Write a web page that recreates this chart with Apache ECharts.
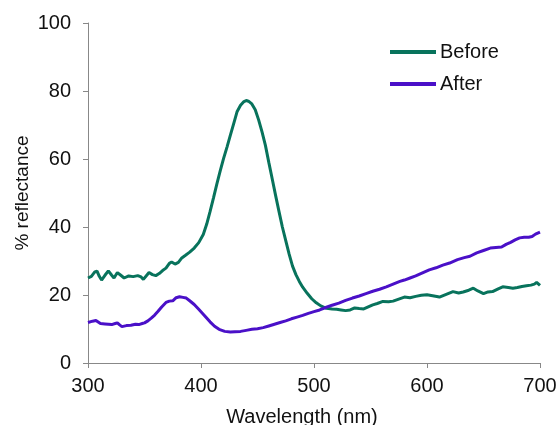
<!DOCTYPE html>
<html>
<head>
<meta charset="utf-8">
<script src="https://cdn.jsdelivr.net/npm/echarts@6/dist/echarts.min.js"></script>
<style>
html,body{margin:0;padding:0;background:#fff;}
#chart{width:557px;height:425px;}
</style>
</head>
<body>
<div id="chart"></div>
<script>
const xTicks = [300, 400, 500, 600, 700];
const yTicks = [0, 20, 40, 60, 80, 100];
const seriesNames = ["Before", "After"];

const beforeWavelength = [300,303,306,308,310,312,315,318,321,323,326,329,332,336,340,344,347,349,352,354,357,360,363,366,369,372,374,377,380,383,386,390,394,398,402,405,408,411,414,417,420,423,426,429,432,435,438,440,442,445,448,451,454,457,460,463,466,469,472,475,478,481,484,487,490,494,498,502,506,511,516,520,524,528,532,536,540,544,548,552,556,561,566,570,575,580,585,590,595,600,605,611,617,623,628,632,637,641,645,650,654,658,663,667,672,676,680,684,688,692,695,697,700];
const beforeValues = [25.0,25.5,26.8,27.0,25.5,24.4,25.8,27.1,25.8,25.0,26.6,25.8,25.0,25.6,25.4,25.7,25.3,24.6,25.8,26.6,26.0,25.7,26.3,27.2,27.9,29.3,29.7,29.1,29.6,30.9,31.6,32.6,33.8,35.4,37.8,40.8,44.5,48.5,52.6,56.5,60.2,63.5,67.0,70.5,74.0,75.8,76.9,77.2,77.0,76.2,74.5,71.5,68.0,64.0,59.0,54.2,49.3,44.6,40.0,36.0,32.0,28.5,26.0,24.0,22.3,20.5,18.9,17.7,16.8,16.1,15.9,15.8,15.6,15.4,15.6,16.2,16.0,15.9,16.5,17.1,17.5,18.1,18.0,18.2,18.8,19.4,19.2,19.6,19.9,20.1,19.8,19.4,20.2,21.0,20.6,20.9,21.4,22.0,21.2,20.4,20.9,21.0,21.8,22.4,22.2,22.0,22.2,22.5,22.7,22.9,23.2,23.7,22.8];

const afterWavelength = [300,304,307,311,315,318,321,324,326,328,330,334,338,342,345,348,350,353,356,359,362,365,369,372,375,378,381,384,387,390,394,398,403,408,412,416,421,426,430,435,440,445,450,455,460,465,470,475,480,485,490,495,500,505,511,516,522,528,534,540,546,552,558,564,570,576,580,585,590,596,602,608,614,620,627,633,638,644,650,656,661,666,670,674,678,682,686,690,693,696,700];
const afterValues = [11.9,12.3,12.5,11.6,11.5,11.4,11.3,11.6,11.8,11.2,10.7,11.0,11.1,11.4,11.3,11.6,11.8,12.4,13.2,14.1,15.2,16.4,17.8,18.2,18.3,19.2,19.5,19.3,19.1,18.3,17.2,15.8,14.0,12.1,10.8,9.9,9.3,9.1,9.2,9.3,9.6,9.9,10.1,10.4,10.9,11.4,11.9,12.4,13.0,13.5,14.0,14.6,15.1,15.6,16.4,17.0,17.6,18.4,19.1,19.7,20.4,21.1,21.7,22.4,23.2,24.0,24.4,25.0,25.6,26.5,27.4,28.0,28.8,29.4,30.4,31.0,31.4,32.4,33.1,33.8,34.0,34.1,34.9,35.5,36.2,36.8,37.0,37.0,37.2,37.9,38.5];

const zip = (xs, ys) => xs.map((x, i) => [x, ys[i]]);
const FONT = '"Liberation Sans", Arial, sans-serif';
const colors = ['#08735c', '#4a10c8'];

const chart = echarts.init(document.getElementById('chart'), null, {renderer: 'canvas'});
chart.setOption({
  animation: false,
  backgroundColor: '#ffffff',
  color: colors,
  grid: {left: 88, right: 17, top: 23, bottom: 62, containLabel: false, outerBoundsMode: 'none'},
  legend: {
    orient: 'vertical',
    left: 385, top: 37,
    icon: 'rect',
    itemWidth: 46, itemHeight: 4,
    itemGap: 12,
    textStyle: {fontFamily: FONT, fontSize: 20, color: '#111', padding: [0,0,0,-1]},
    data: seriesNames
  },
  xAxis: {
    type: 'value',
    min: xTicks[0], max: xTicks[xTicks.length - 1], interval: 100,
    name: 'Wavelength (nm)', nameLocation: 'middle', nameGap: 44, nameMoveOverlap: false,
    nameTextStyle: {fontFamily: FONT, fontSize: 20, color: '#111', padding: [0, 24, 0, 0]},
    axisLine: {show: true, lineStyle: {color: '#888', width: 1}},
    axisTick: {show: true, length: 5, inside: false, lineStyle: {color: '#888'}},
    axisLabel: {fontFamily: FONT, fontSize: 20, color: '#111', margin: 13},
    splitLine: {show: false}
  },
  yAxis: {
    type: 'value',
    min: yTicks[0], max: yTicks[yTicks.length - 1], interval: 20,
    name: '% reflectance', nameLocation: 'middle', nameGap: 56, nameRotate: 90, nameMoveOverlap: false,
    nameTextStyle: {fontFamily: FONT, fontSize: 19, color: '#111'},
    axisLine: {show: true, lineStyle: {color: '#888', width: 1}},
    axisTick: {show: true, length: 5, inside: false, lineStyle: {color: '#888'}},
    axisLabel: {fontFamily: FONT, fontSize: 20, color: '#111', margin: 17},
    splitLine: {show: false}
  },
  series: [
    {name: seriesNames[0], type: 'line', showSymbol: false, symbol: 'none', data: zip(beforeWavelength, beforeValues), lineStyle: {width: 3, color: colors[0]}, itemStyle: {color: colors[0]}},
    {name: seriesNames[1], type: 'line', showSymbol: false, symbol: 'none', data: zip(afterWavelength, afterValues), lineStyle: {width: 3, color: colors[1]}, itemStyle: {color: colors[1]}}
  ]
});
</script>
</body>
</html>
